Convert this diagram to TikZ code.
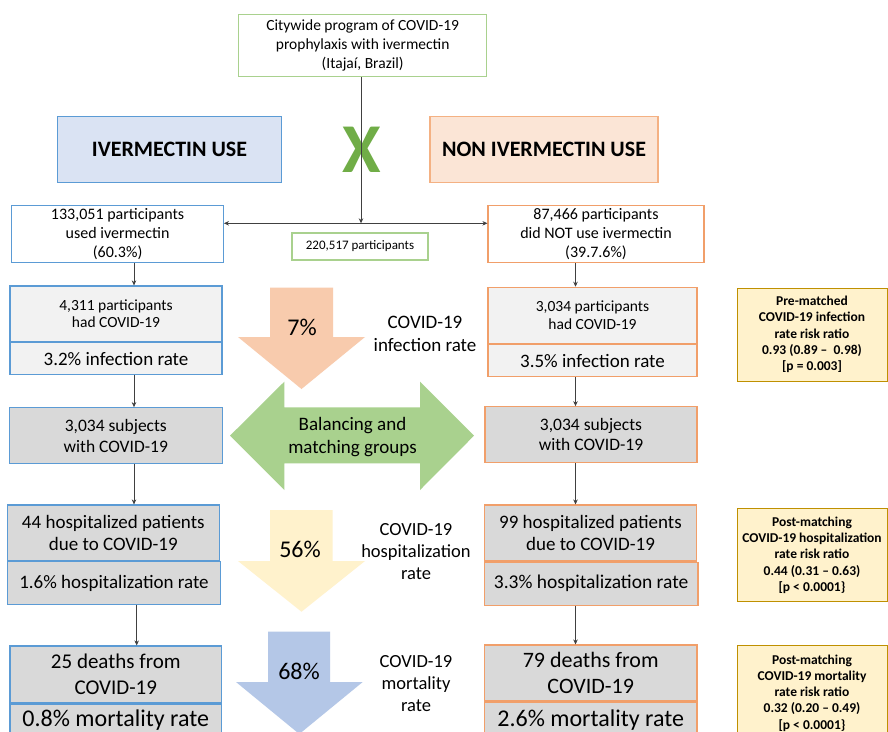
\documentclass[tikz,border=0pt]{standalone}
\usepackage{fontspec}
\setmainfont{Carlito}
\usetikzlibrary{arrows.meta}
\definecolor{gborder}{HTML}{A9D18E}
\definecolor{bborder}{HTML}{5B9BD5}
\definecolor{oborder}{HTML}{F19F6A}
\definecolor{obordertop}{HTML}{F4B183}
\definecolor{bfill}{HTML}{DAE3F3}
\definecolor{ofill}{HTML}{FBE5D6}
\definecolor{lgrey}{HTML}{F2F2F2}
\definecolor{mgrey}{HTML}{D9D9D9}
\definecolor{yfill}{HTML}{FFF2CC}
\definecolor{yborder}{HTML}{BF9000}
\definecolor{oarrow}{HTML}{F8CBAD}
\definecolor{yarrow}{HTML}{FFF2CC}
\definecolor{barrow}{HTML}{B4C7E7}
\definecolor{garrow}{HTML}{A9D18E}
\definecolor{xgreen}{HTML}{70AD47}
\definecolor{lineclr}{HTML}{404040}
\tikzset{
  box/.style={draw, line width=1.1pt, inner sep=0pt, align=center, text=black},
  bluebox/.style={box, draw=bborder},
  orangebox/.style={box, draw=oborder},
  greenbox/.style={box, draw=gborder},
  statbox/.style={box, draw=yborder, fill=yfill, line width=1pt,
     minimum width=150pt, font=\fontsize{13.5}{16.3}\selectfont\bfseries},
  conn/.style={draw=lineclr, line width=0.7pt, -{Stealth[length=5pt,width=4.5pt]}},
  lbl/.style={align=center, inner sep=0pt, font=\fontsize{19}{22.5}\selectfont},
  pct/.style={inner sep=0pt, font=\fontsize{24}{28}\selectfont}
}
\begin{document}
\begin{tikzpicture}[x=1pt, y=-1pt]
\useasboundingbox (0,0) rectangle (888,731);
\fill[white] (0,0) rectangle (888,731);

% big arrows
\fill[oarrow] (270,287.7) -- (333,287.7) -- (333,337) -- (365,337) -- (301.5,389) -- (238,337) -- (270,337) -- cycle;
\fill[garrow] (230,435.7) -- (284.3,381.7) -- (284.3,407.3) -- (420,407.3) -- (420,381.7) -- (474,435.7) -- (420,490) -- (420,463.3) -- (284.3,463.3) -- (284.3,490) -- cycle;
\fill[yarrow] (270,510) -- (332.7,510) -- (332.7,561) -- (365,561) -- (301.5,611.7) -- (238,561) -- (270,561) -- cycle;
\fill[barrow] (268,631.7) -- (330,631.7) -- (330,682) -- (362.7,682) -- (299.3,734) -- (236,682) -- (268,682) -- cycle;

\node[pct] (p7) at (302,327) {7\%};
\node[lbl] (bal) at (352.5,437) {Balancing and\\matching groups};
\node[pct] (p56) at (300,549) {56\%};
\node[pct] (p68) at (299,671) {68\%};

\node[lbl] (linf) at (425,334) {COVID-19\\infection rate};
\node[lbl, font=\fontsize{18.5}{22}\selectfont] (lhosp) at (416,551.5) {COVID-19\\hospitalization\\rate};
\node[lbl, font=\fontsize{18.5}{22}\selectfont] (lmort) at (416,684) {COVID-19\\mortality\\rate};

% top
\node[greenbox, minimum width=248pt, minimum height=62.7pt, font=\fontsize{15.5}{18.6}\selectfont] (top) at (362.7,45.5) {Citywide program of COVID-19\\prophylaxis with ivermectin\\(Itajaí, Brazil)};
\node[bluebox, fill=bfill, minimum width=224.4pt, minimum height=66pt, font=\fontsize{22}{26}\selectfont\bfseries] (ivm) at (169.5,149.7) {IVERMECTIN USE};
\node[box, draw=obordertop, fill=ofill, minimum width=228pt, minimum height=66pt, font=\fontsize{22}{26}\selectfont\bfseries] (nivm) at (544,149.7) {NON IVERMECTIN USE};
\node[inner sep=0pt, text=xgreen, font=\fontsize{70}{70}\selectfont\bfseries] (x) at (361.5,149.5) {X};

% row 1
\node[bluebox, minimum width=211.6pt, minimum height=56.6pt, font=\fontsize{16}{18.6}\selectfont] (lb1) at (117.6,234) {133,051 participants\\used ivermectin\\(60.3\%)};
\node[orangebox, minimum width=216pt, minimum height=56.8pt, font=\fontsize{16}{18.6}\selectfont] (rb1) at (596,234.1) {87,466 participants\\did NOT use ivermectin\\(39.7.6\%)};
\node[greenbox, minimum width=136pt, minimum height=27pt, font=\fontsize{13}{15}\selectfont] (tot) at (360,246.5) {220,517 participants};
\coordinate (split) at (361,223.3);
\draw[conn] (top.south -| split) -- (split);
\draw[conn] (split) -- (lb1.east |- split);
\draw[conn] (split) -- (rb1.west |- split);

% row 2
\node[bluebox, fill=lgrey, minimum width=212pt, minimum height=55.7pt, font=\fontsize{15.5}{17.5}\selectfont] (lb2) at (116,313.8) {4,311 participants\\had COVID-19};
\node[bluebox, fill=lgrey, minimum width=212pt, minimum height=31.6pt, font=\fontsize{19}{22}\selectfont, anchor=north] (lb2r) at (lb2.south) {3.2\% infection rate};
\node[orangebox, fill=lgrey, minimum width=209pt, minimum height=56pt, font=\fontsize{15.5}{18.5}\selectfont] (rb2) at (592.5,315.3) {3,034 participants\\had COVID-19};
\node[orangebox, fill=lgrey, minimum width=209pt, minimum height=32.4pt, font=\fontsize{19}{22}\selectfont, anchor=north] (rb2r) at (rb2.south) {3.5\% infection rate};
\node[statbox, minimum height=93pt] (st1) at (812,334.5) {Pre-matched\\COVID-19 infection\\rate risk ratio\\0.93 (0.89 –\ \ 0.98)\\{[p = 0.003]}};

% row 3
\node[bluebox, fill=mgrey, minimum width=212.5pt, minimum height=55.6pt, font=\fontsize{17.5}{21}\selectfont] (lb3) at (115.8,435.5) {3,034 subjects\\with COVID-19};
\node[orangebox, fill=mgrey, minimum width=212pt, minimum height=56pt, font=\fontsize{17.5}{20}\selectfont] (rb3) at (591,434.7) {3,034 subjects\\with COVID-19};

% row 4
\node[bluebox, fill=mgrey, minimum width=212pt, minimum height=55.7pt, font=\fontsize{19}{22}\selectfont] (lb4) at (113.3,532.8) {44 hospitalized patients\\due to COVID-19};
\node[bluebox, fill=mgrey, minimum width=213.4pt, minimum height=42.6pt, font=\fontsize{19}{22}\selectfont, anchor=north west] (lb4r) at (lb4.south west) {1.6\% hospitalization rate};
\node[orangebox, fill=mgrey, minimum width=212.4pt, minimum height=56pt, font=\fontsize{19}{22}\selectfont] (rb4) at (590.5,533) {99 hospitalized patients\\due to COVID-19};
\node[orangebox, fill=mgrey, minimum width=213.7pt, minimum height=43pt, font=\fontsize{19.5}{22}\selectfont, anchor=north west] (rb4r) at (rb4.south west) {3.3\% hospitalization rate};
\node[statbox, minimum height=92.7pt] (st2) at (812,555.3) {Post-matching\\COVID-19 hospitalization\\rate risk ratio\\0.44 (0.31 – 0.63)\\{[p < 0.0001\}}};

% row 5
\node[bluebox, fill=mgrey, minimum width=211.7pt, minimum height=57pt, font=\fontsize{21}{26}\selectfont] (lb5) at (115.8,674.5) {25 deaths from\\COVID-19};
\node[bluebox, fill=mgrey, minimum width=211.7pt, minimum height=42pt, anchor=north, font=\fontsize{24}{28}\selectfont] (lb5r) at (lb5.south) {\raisebox{-1pt}[0pt][0pt]{0.8\% mortality rate}};
\node[orangebox, fill=mgrey, minimum width=212.5pt, minimum height=56pt, font=\fontsize{22}{26.5}\selectfont] (rb5) at (590.7,673) {79 deaths from\\COVID-19};
\node[orangebox, fill=mgrey, minimum width=212.5pt, minimum height=44pt, anchor=north, font=\fontsize{24}{28}\selectfont] (rb5r) at (rb5.south) {\raisebox{-2pt}[0pt][0pt]{2.6\% mortality rate}};
\node[statbox, minimum height=95pt, anchor=north] (st3) at (812,645) {Post-matching\\COVID-19 mortality\\rate risk ratio\\0.32 (0.20 – 0.49)\\{[p < 0.0001\}}};

% connectors
\coordinate (lx) at (134,0);
\coordinate (lx2) at (136.7,0);
\coordinate (rx) at (575.5,0);
\draw[conn] (lx |- lb1.south) -- (lx |- lb2.north);
\draw[conn] (rx |- rb1.south) -- (rx |- rb2.north);
\draw[conn] (lx |- lb2r.south) -- (lx |- lb3.north);
\draw[conn] (rx |- rb2r.south) -- (rx |- rb3.north);
\draw[conn] (lx |- lb3.south) -- (lx |- lb4.north);
\draw[conn] (rx |- rb3.south) -- (rx |- rb4.north);
\draw[conn] (lx2 |- lb4r.south) -- (lx2 |- lb5.north);
\draw[conn] (rx |- rb4r.south) -- (rx |- rb5.north);
\end{tikzpicture}
\end{document}
